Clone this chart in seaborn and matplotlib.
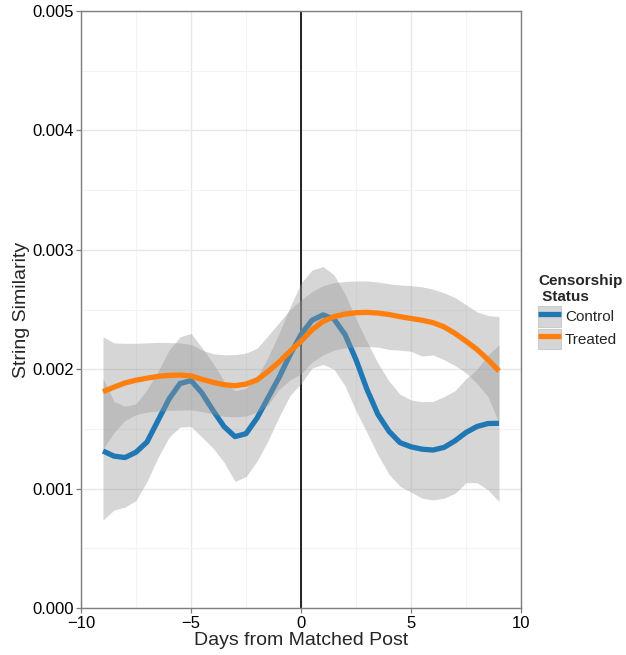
import matplotlib
matplotlib.use("Agg")
import matplotlib.pyplot as plt
from matplotlib.lines import Line2D
from matplotlib.patches import Patch
from matplotlib.legend_handler import HandlerTuple
from matplotlib.ticker import FormatStrFormatter, MultipleLocator
import seaborn as sns
import pandas as pd

# Days relative to the matched post
days = [-9, -8.5, -8, -7.5, -7, -6.5, -6, -5.5, -5, -4.5, -4, -3.5, -3, -2.5,
        -2, -1.5, -1, -0.5, 0, 0.5, 1, 1.5, 2, 2.5, 3, 3.5, 4, 4.5, 5, 5.5,
        6, 6.5, 7, 7.5, 8, 8.5, 9]

# Smoothed string similarity, Control group
control_fit = [0.001315, 0.001272, 0.00126, 0.001305, 0.00139, 0.00157,
               0.00175, 0.00188, 0.001905, 0.0018, 0.001655, 0.00152,
               0.001435, 0.00146, 0.00159, 0.00176, 0.00193, 0.00212,
               0.00229, 0.00241, 0.002455, 0.00242, 0.00229, 0.00208,
               0.00183, 0.00162, 0.00148, 0.001385, 0.00135, 0.00133,
               0.001323, 0.001345, 0.0014, 0.00147, 0.00152, 0.001545,
               0.001547]
control_upper = [0.001924, 0.00173, 0.00169, 0.00171, 0.00183, 0.00198,
                 0.00216, 0.00227, 0.0023, 0.00218, 0.00205, 0.0019,
                 0.00182, 0.00184, 0.00193, 0.0021, 0.0023, 0.00252,
                 0.00272, 0.00283, 0.00286, 0.00279, 0.00263, 0.00242,
                 0.00223, 0.00205, 0.0019, 0.00179, 0.001742, 0.001728,
                 0.00173, 0.00177, 0.00182, 0.00192, 0.002, 0.00212,
                 0.002203]
control_lower = [0.000737, 0.00082, 0.000845, 0.0009, 0.00106, 0.00126,
                 0.00143, 0.001515, 0.00152, 0.00143, 0.00134, 0.00122,
                 0.00106, 0.0011, 0.00123, 0.0014, 0.0016, 0.00178,
                 0.00188, 0.00201, 0.00204, 0.002, 0.00186, 0.00165,
                 0.00147, 0.00128, 0.00112, 0.00102, 0.00097, 0.00092,
                 0.000905, 0.00092, 0.00096, 0.00105, 0.00105, 0.00099,
                 0.000891]

# Smoothed string similarity, Treated group
treated_fit = [0.001812, 0.00185, 0.001885, 0.001908, 0.001925, 0.00194,
               0.001948, 0.001951, 0.001944, 0.001915, 0.00189, 0.00187,
               0.001862, 0.001875, 0.00191, 0.00198, 0.00206, 0.00215,
               0.002235, 0.00233, 0.0024, 0.00244, 0.002462, 0.002473,
               0.002476, 0.00247, 0.002458, 0.00244, 0.002425, 0.00241,
               0.00239, 0.002355, 0.0023, 0.002235, 0.002165, 0.00208,
               0.001985]
treated_upper = [0.002272, 0.00222, 0.002217, 0.002217, 0.00222, 0.002225,
                 0.002223, 0.00222, 0.002208, 0.00216, 0.00213, 0.00212,
                 0.002122, 0.002135, 0.002175, 0.00228, 0.00239, 0.0025,
                 0.00258, 0.00265, 0.0027, 0.002725, 0.002735, 0.002739,
                 0.002739, 0.00273, 0.002715, 0.002705, 0.0027, 0.00269,
                 0.00267, 0.00264, 0.0026, 0.00254, 0.00248, 0.00245,
                 0.00244]
treated_lower = [0.00133, 0.00147, 0.00157, 0.00162, 0.00164, 0.00165,
                 0.001655, 0.001658, 0.00166, 0.001645, 0.001625, 0.001605,
                 0.001602, 0.001607, 0.00164, 0.0017, 0.00183, 0.00191,
                 0.00196, 0.00206, 0.00212, 0.00216, 0.00218, 0.002189,
                 0.00219, 0.002185, 0.002165, 0.00216, 0.00215, 0.00211,
                 0.00212, 0.00208, 0.00203, 0.00197, 0.00188, 0.00177,
                 0.00155]

groups = ["Control", "Treated"]
colors = {"Control": "#1f77b4", "Treated": "#ff7f0e"}

frames = []
for name, fit, lo, hi in [("Control", control_fit, control_lower, control_upper),
                          ("Treated", treated_fit, treated_lower, treated_upper)]:
    frames.append(pd.DataFrame({"day": days, "similarity": fit,
                                "lower": lo, "upper": hi, "status": name}))
df = pd.concat(frames, ignore_index=True)

sns.set_theme(style="white")
plt.rcParams["font.family"] = ["Liberation Sans", "DejaVu Sans"]

fig = plt.figure(figsize=(6.26, 6.55), dpi=100)
ax = fig.add_axes([81 / 626, 1 - 608 / 655, 440 / 626, 597 / 655])

band_rgba = (0.6, 0.6, 0.6, 0.4)
z = 2
for name in groups:
    sub = df[df["status"] == name]
    ax.fill_between(sub["day"], sub["lower"], sub["upper"],
                    color=band_rgba, linewidth=0, zorder=z)
    sns.lineplot(data=sub, x="day", y="similarity", color=colors[name],
                 linewidth=3.8, errorbar=None, ax=ax, zorder=z + 1,
                 solid_capstyle="butt", solid_joinstyle="round")
    z += 2

ax.axvline(0, color="black", linewidth=1.2, zorder=1.9)

ax.set_xlim(-10, 10)
ax.set_ylim(0, 0.005)
ax.xaxis.set_major_locator(MultipleLocator(5))
ax.xaxis.set_minor_locator(MultipleLocator(2.5))
ax.yaxis.set_major_locator(MultipleLocator(0.001))
ax.yaxis.set_minor_locator(MultipleLocator(0.0005))
ax.yaxis.set_major_formatter(FormatStrFormatter("%.3f"))

ax.grid(True, which="major", color="#e8e8e8", linewidth=1.0, zorder=0)
ax.grid(True, which="minor", color="#f3f3f3", linewidth=0.8, zorder=0)
ax.set_axisbelow(True)

for sp in ax.spines.values():
    sp.set_color("#7f7f7f")
    sp.set_linewidth(1.0)

ax.tick_params(axis="both", which="major", direction="out", length=3.5,
               width=0.9, color="#7f7f7f", labelsize=12, labelcolor="black",
               pad=1.5, left=True, bottom=True)
ax.tick_params(axis="x", which="major", pad=2.5)
ax.tick_params(axis="both", which="minor", length=0)

ax.set_xlabel("Days from Matched Post", fontsize=14, labelpad=0.5)
ax.set_ylabel("String Similarity", fontsize=14, labelpad=2)

handles = [
    (Patch(facecolor=band_rgba, edgecolor="#cccccc", linewidth=0.8),
     Line2D([0], [0], color=colors[g], linewidth=3.8, solid_capstyle="butt"))
    for g in groups
]
leg = fig.legend(handles, groups, title="Censorship\n Status",
                 loc="upper left", bbox_to_anchor=(535 / 626, 1 - 271 / 655),
                 frameon=False, fontsize=11, title_fontsize=11,
                 handlelength=1.5, handleheight=1.7, handletextpad=0.25,
                 labelspacing=0.12, borderaxespad=0, borderpad=0.2,
                 alignment="left",
                 handler_map={tuple: HandlerTuple(ndivide=1, pad=0)})
leg.get_title().set_fontweight("bold")

fig.savefig("out.png", dpi=100)
